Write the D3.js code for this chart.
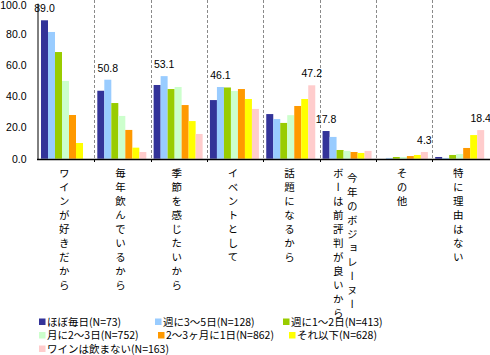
<!DOCTYPE html>
<html>
<head>
<meta charset="utf-8">
<script src="https://cdn.jsdelivr.net/npm/d3@7"></script>
<style>
  html, body { margin: 0; padding: 0; background: #fff; }
  svg { display: block; }
</style>
</head>
<body>
<svg id="chart" width="490" height="355"></svg>
<script>
// ---- data ----
const categories = [
  "ワインが好きだから",
  "毎年飲んでいるから",
  "季節を感じたいから",
  "イベントとして",
  "話題になるから",
  "今年のボジョレーヌーボーは前評判が良いから",
  "その他",
  "特に理由はない"
];
const seriesNames = [
  "ほぼ毎日(N=73)",
  "週に3～5日(N=128)",
  "週に1～2日(N=413)",
  "月に2～3日(N=752)",
  "2～3ヶ月に1日(N=862)",
  "それ以下(N=628)",
  "ワインは飲まない(N=163)"
];
const daily        = [89.0, 43.7, 47.4, 37.7, 28.7, 17.8, 0.0, 1.1];
const week3to5     = [81.5, 50.8, 53.1, 46.1, 25.5, 14.0, 0.5, 0.5];
const week1to2     = [68.6, 35.8, 44.8, 45.8, 23.0, 5.6, 1.1, 2.4];
const month2to3    = [50.0, 27.5, 46.1, 43.5, 28.0, 5.0, 1.1, 3.0];
const months2to3   = [28.1, 18.5, 34.5, 44.8, 33.9, 4.3, 1.7, 6.9];
const less         = [10.1, 7.1, 24.2, 38.4, 38.4, 3.7, 2.4, 15.2];
const noWine       = [0.0, 4.3, 15.9, 32.0, 47.2, 5.0, 4.3, 18.4];
const seriesValues = [daily, week3to5, week1to2, month2to3, months2to3, less, noWine];
const yTicks = [0, 20, 40, 60, 80, 100];

// ---- styles ----
const colors = ["#333399", "#99CCFF", "#99CC00", "#CCFFCC", "#FF9900", "#FFFF00", "#FFCCCC"];
const numFont = "'Liberation Sans', Arial, sans-serif";
const jpFont = "'Noto Sans CJK JP', sans-serif";

const svg = d3.select("#chart");

const x0 = d3.scaleBand().domain(categories).range([38, 488.5]);
const x1 = d3.scaleBand().domain(seriesNames).range([3, 52]);
const y = d3.scaleLinear().domain([0, 100]).range([158.7, 3.2]);

// dashed separators
const seps = categories.slice(1).map(c => x0(c));
svg.append("g").selectAll("line").data(seps).join("line")
  .attr("x1", d => Math.round(d) + 0.5).attr("x2", d => Math.round(d) + 0.5)
  .attr("y1", 0).attr("y2", 159)
  .attr("stroke", "#8a8a8a").attr("stroke-width", 1)
  .attr("stroke-dasharray", "3,2");
// small ticks below axis
svg.append("g").selectAll("line").data(seps).join("line")
  .attr("x1", d => Math.round(d) + 0.5).attr("x2", d => Math.round(d) + 0.5)
  .attr("y1", 159).attr("y2", 162)
  .attr("stroke", "#000").attr("stroke-width", 1);

// bars
const groups = svg.append("g").selectAll("g").data(categories).join("g")
  .attr("transform", d => `translate(${x0(d)},0)`);
groups.selectAll("rect")
  .data((c, i) => seriesValues.map((vals, s) => ({ s, v: vals[i] })))
  .join("rect")
  .attr("x", d => x1(seriesNames[d.s]))
  .attr("width", x1.bandwidth())
  .attr("y", d => y(d.v))
  .attr("height", d => y(0) - y(d.v))
  .attr("fill", d => colors[d.s]);

// max labels
groups.each(function (c, i) {
  const vals = seriesValues.map(v => v[i]);
  const m = d3.maxIndex(vals);
  d3.select(this).append("text")
    .attr("x", x1(seriesNames[m]) + x1.bandwidth() / 2)
    .attr("y", y(vals[m]) - 8)
    .attr("text-anchor", "middle")
    .attr("font-family", numFont)
    .attr("font-size", 10.5)
    .attr("fill", "#000")
    .text(d3.format(".1f")(vals[m]));
});

// y axis
const yAxis = d3.axisLeft(y).tickValues(yTicks).tickFormat(d3.format(".1f"))
  .tickSizeInner(0).tickSizeOuter(0).tickPadding(11);
const yg = svg.append("g").attr("transform", "translate(37.5,0)").call(yAxis);
yg.select(".domain").attr("stroke", "#000");
yg.selectAll("text").attr("font-family", numFont).attr("font-size", 10.5).attr("fill", "#000");
// keep the top label just inside the picture
yg.selectAll(".tick").filter(d => d === 100).select("text").attr("y", 2);

// x axis line
svg.append("line").attr("x1", 37).attr("x2", 490).attr("y1", 159.5).attr("y2", 159.5)
  .attr("stroke", "#000").attr("stroke-width", 1.4);

// category labels (vertical, one character per row; long labels wrap into a second column)
const pitch = 14;
const maxPerCol = 10;
categories.forEach(c => {
  const cx = x0(c) + x0.bandwidth() / 2 - 2;
  const chars = Array.from(c);
  const cols = chars.length > maxPerCol
    ? [chars.slice(0, maxPerCol), chars.slice(maxPerCol)]
    : [chars];
  const two = cols.length > 1;
  cols.forEach((t, j) => {
    const colX = two ? (j === 0 ? cx + 6.5 : cx - 7.5) : cx;
    const y0 = two && j === 0 ? 172.5 : 167.5;
    t.forEach((ch, k) => {
      svg.append("text")
        .attr("x", colX)
        .attr("y", y0 + k * pitch)
        .style("writing-mode", "vertical-rl")
        .attr("font-family", jpFont)
        .attr("font-size", 10.5)
        .attr("fill", "#000")
        .text(ch);
    });
  });
});

// legend
const legendPos = [[39, 322], [155, 322], [283, 322], [39, 335.5], [158, 335.5], [289, 335.5], [39, 349]];
const lg = svg.append("g").selectAll("g").data(seriesNames).join("g")
  .attr("transform", (d, i) => `translate(${legendPos[i][0]},${legendPos[i][1]})`);
lg.append("rect").attr("x", 0).attr("y", -3.5).attr("width", 6.5).attr("height", 6.5)
  .attr("fill", (d, i) => colors[i]);
lg.append("text").attr("x", 8).attr("y", 0).attr("dy", "0.36em")
  .attr("font-family", jpFont).attr("font-size", 10.5).attr("fill", "#000")
  .text(d => d);
</script>
</body>
</html>
